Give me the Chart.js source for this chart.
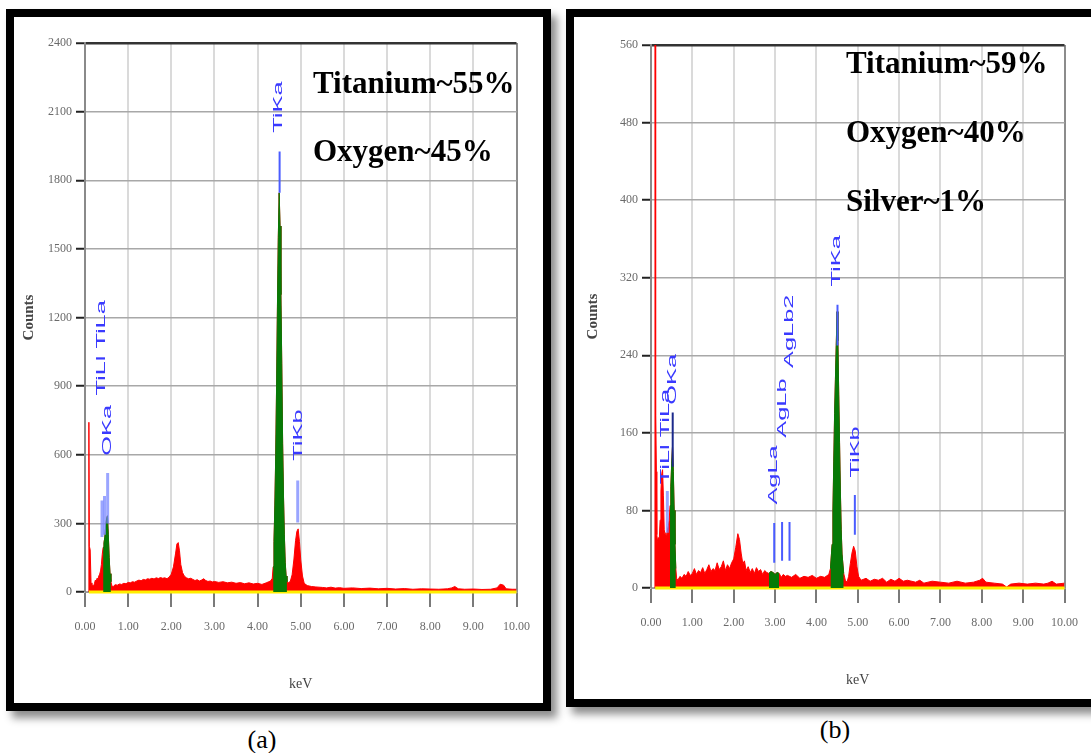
<!DOCTYPE html>
<html>
<head>
<meta charset="utf-8">
<script src="https://cdn.jsdelivr.net/npm/chart.js@4.4.1/dist/chart.umd.min.js"></script>
<style>
html, body { margin: 0; padding: 0; background: #fff; overflow: hidden; width: 1091px; height: 753px; }
.frame { position: absolute; box-sizing: border-box; border: 8px solid #000; background: #fff; box-shadow: 6px 7px 8px rgba(0,0,0,0.45); }
#frameA { left: 6px; top: 9px; width: 545px; height: 702px; }
#frameB { left: 566px; top: 9px; width: 545px; height: 698px; }
.frame canvas { position: absolute; left: 0; top: 0; }
.note { position: absolute; font: bold 31px "Liberation Serif", "Times New Roman", serif; line-height: 31px; white-space: nowrap; color: #000; }
.cap { position: absolute; width: 60px; text-align: center; font: 26px "Liberation Serif", "Times New Roman", serif; line-height: 26px; color: #000; }
</style>
</head>
<body>
<div class="frame" id="frameA"><canvas id="chartA" width="529" height="686"></canvas></div>
<div class="frame" id="frameB"><canvas id="chartB" width="517" height="682"></canvas></div>

<div class="note" style="left:313px; top:67px;">Titanium~55%</div>
<div class="note" style="left:313px; top:135px;">Oxygen~45%</div>
<div class="note" style="left:846px; top:47px;">Titanium~59%</div>
<div class="note" style="left:846px; top:116px;">Oxygen~40%</div>
<div class="note" style="left:846px; top:185px;">Silver~1%</div>
<div class="cap" style="left:232px; top:727px;">(a)</div>
<div class="cap" style="left:805px; top:717px;">(b)</div>

<script>
// ---------- common axis values ----------
const keVTicks = [0, 1, 2, 3, 4, 5, 6, 7, 8, 9, 10];
const countTicksA = [0, 300, 600, 900, 1200, 1500, 1800, 2100, 2400];
const countTicksB = [0, 80, 160, 240, 320, 400, 480, 560];

// ---------- spectrum (a) ----------
const energyA = [
    0.08, 0.09, 0.10, 0.12, 0.14, 0.16, 0.18, 0.20, 0.22, 0.24, 0.26, 0.28, 0.30, 0.32, 0.34, 0.36, 0.38, 0.40,
    0.42, 0.44, 0.46, 0.48, 0.50, 0.52, 0.54, 0.56, 0.58, 0.60, 0.62, 0.64, 0.66,
    0.70, 0.75, 0.80, 0.85, 0.90, 0.95, 1.00, 1.05, 1.10, 1.15, 1.20, 1.25, 1.30, 1.35, 1.40, 1.45, 1.50, 1.55, 1.60, 1.65, 1.70, 1.75, 1.80, 1.85, 1.90, 1.95,
    2.00, 2.05, 2.10, 2.13, 2.16, 2.19, 2.22, 2.26, 2.30,
    2.35, 2.40, 2.45, 2.50, 2.55, 2.60, 2.65, 2.70, 2.75, 2.80, 2.85, 2.90, 2.95, 3.00, 3.10, 3.20, 3.30, 3.40, 3.50, 3.60, 3.70, 3.80, 3.90, 4.00, 4.10, 4.20, 4.26,
    4.30, 4.34, 4.36, 4.38, 4.40, 4.42, 4.44, 4.46, 4.48, 4.50, 4.52, 4.54, 4.56, 4.58, 4.60, 4.62, 4.64, 4.66, 4.68, 4.72,
    4.76, 4.80, 4.84, 4.88, 4.91, 4.94, 4.97, 5.00, 5.04, 5.08,
    5.15, 5.25, 5.35, 5.5, 5.6, 5.7, 5.8, 5.9, 6.0, 6.2, 6.4, 6.6, 6.8, 7.0, 7.2, 7.4, 7.6, 7.8, 8.0, 8.2, 8.4, 8.5, 8.57, 8.65, 8.8, 9.0, 9.2, 9.4, 9.55, 9.62, 9.70, 9.76, 9.9, 10.0
];
const countsA = [
    0, 742, 200, 185, 40, 28, 30, 26, 38, 52, 48, 60, 55, 70, 78, 92, 120, 165,
    195, 215, 240, 290, 320, 333, 250, 150, 80, 45, 30, 22, 25,
    32, 30, 35, 33, 38, 36, 42, 40, 45, 43, 48, 52, 49, 55, 53, 58, 56, 60, 57, 62, 59, 63, 60, 62, 58, 65,
    78, 110, 170, 210, 216, 180, 120, 85, 70,
    62, 58, 60, 55, 50, 54, 48, 52, 58, 50, 46, 48, 44, 46, 42, 45, 40, 43, 38, 41, 36, 40, 35, 38, 33, 40, 45,
    48, 60, 110, 220, 380, 600, 900, 1250, 1550, 1745, 1600, 1300, 1000, 650, 420, 250, 130, 70, 45, 40,
    48, 75, 140, 225, 265, 276, 220, 140, 70, 38,
    28, 24, 22, 20, 18, 21, 17, 19, 16, 18, 15, 17, 14, 16, 13, 15, 12, 14, 13, 12, 14, 18, 24, 14, 12, 13, 11, 12, 18, 34, 30, 14, 12, 12
];
const roiA = [[0.41, 0.61], [4.35, 4.69]];
const markerEnergyA = [0.395, 0.452, 0.525, 4.51, 4.93];
const markerLowA = [240, 250, 300, 1745, 304];
const markerHighA = [400, 420, 520, 1926, 487];
const peakNamesA = ['TiLl TiLa', 'OKa', 'TiKa', 'TiKb'];
const peakEnergyA = [0.39, 0.51, 4.49, 4.95];
const peakBaseA = [859, 596, 2008, 574];

// ---------- spectrum (b) ----------
const energyB = [
    0.095, 0.10, 0.105, 0.12, 0.13, 0.14, 0.16, 0.18, 0.20, 0.22, 0.24, 0.26, 0.28, 0.30, 0.32, 0.34, 0.36, 0.38, 0.40,
    0.42, 0.44, 0.46, 0.48, 0.50, 0.52, 0.54, 0.56, 0.58, 0.60, 0.62, 0.65,
    0.70, 0.75, 0.80, 0.85, 0.90, 0.95, 1.00, 1.05, 1.10, 1.15, 1.20, 1.25, 1.30, 1.35, 1.40, 1.45, 1.50, 1.55, 1.60, 1.65, 1.70, 1.75, 1.80, 1.85, 1.90, 1.95,
    2.00, 2.05, 2.10, 2.14, 2.18, 2.22, 2.26,
    2.30, 2.35, 2.40, 2.45, 2.50, 2.55, 2.60, 2.65, 2.70, 2.75, 2.80, 2.85, 2.90, 2.95, 3.00, 3.05, 3.10, 3.15, 3.20, 3.25, 3.30, 3.40, 3.50, 3.60, 3.70, 3.80, 3.90, 4.00, 4.10, 4.20, 4.30,
    4.34, 4.38, 4.40, 4.42, 4.44, 4.46, 4.48, 4.50, 4.52, 4.54, 4.56, 4.58, 4.60, 4.62, 4.66, 4.70,
    4.74, 4.78, 4.82, 4.86, 4.90, 4.94, 4.98, 5.02, 5.08,
    5.2, 5.3, 5.4, 5.5, 5.6, 5.7, 5.8, 5.9, 6.0, 6.1, 6.2, 6.4, 6.5, 6.6, 6.8, 7.0, 7.2, 7.4, 7.6, 7.8, 7.95, 8.02, 8.1, 8.3, 8.5, 8.6, 8.7, 8.9, 9.1, 9.3, 9.5, 9.6, 9.7, 9.8, 10.0
];
const countsB = [
    0, 600, 60, 178, 120, 55, 48, 52, 50, 70, 100, 118, 122, 95, 60, 55, 57, 52, 60,
    64, 70, 85, 105, 128, 146, 120, 80, 45, 20, 10, 8,
    12, 10, 14, 12, 17, 13, 15, 20, 14, 18, 16, 21, 15, 19, 24, 17, 20, 18, 26, 19, 22, 28, 18, 24, 20, 26,
    30, 42, 56, 50, 36, 25, 28,
    18, 22, 16, 20, 15, 21, 17, 19, 14, 18, 16, 15, 17, 16, 14, 16, 15, 11, 14, 12, 13, 11, 14, 10, 12, 11, 13, 10, 12, 11, 14,
    20, 45, 80, 130, 180, 215, 250, 285, 255, 200, 150, 100, 60, 35, 15, 8,
    6, 12, 25, 36, 43, 38, 22, 12, 8,
    10, 7, 9, 8, 10, 6, 9, 7, 10, 7, 8, 6, 8, 5, 7, 6, 5, 7, 5, 6, 8, 10, 6, 5, 4, 1, 4, 5, 4, 5, 4, 5, 7, 4, 5
];
const roiB = [[0.46, 0.61], [2.85, 3.10], [4.33, 4.69]];
const markerEnergyB = [0.395, 0.525, 2.98, 3.17, 3.35, 4.51, 4.93];
const markerLowB = [57, 125, 26, 28, 28, 250, 55];
const markerHighB = [100, 181, 67, 68, 68, 292, 96];
const peakNamesB = ['TiLl TiLa', 'OKa', 'AgLa', 'AgLb', 'AgLb2', 'TiKa', 'TiKb'];
const peakEnergyB = [0.35, 0.51, 2.97, 3.17, 3.35, 4.49, 4.94];
const peakBaseB = [107, 189, 86, 155, 227, 311, 114];

// marker line looks (light / dark / mid)
const markerLook = {
    light: { color: 'rgba(120,135,255,0.75)', width: 3 },
    dark: { color: '#1c2a8c', width: 2 },
    mid: { color: '#4a5cff', width: 2 }
};

Chart.defaults.font.family = '"Liberation Serif", "Times New Roman", serif';

// rotated, stretched peak labels like the EDS software draws them
function peakLabels(names, energies, bases) {
    return {
        id: 'peakLabels',
        afterDatasetsDraw(chart) {
            const ctx = chart.ctx;
            const xs = chart.scales.x, ys = chart.scales.y;
            ctx.save();
            ctx.fillStyle = '#3a3aff';
            ctx.font = '13px "Liberation Sans", Arial, sans-serif';
            ctx.textAlign = 'left';
            ctx.textBaseline = 'middle';
            names.forEach((name, i) => {
                ctx.save();
                ctx.translate(xs.getPixelForValue(energies[i]), ys.getPixelForValue(bases[i]));
                ctx.rotate(-Math.PI / 2);
                ctx.scale(1.95, 1);
                ctx.fillText(name, 0, 0);
                ctx.restore();
            });
            ctx.restore();
        }
    };
}

function spectrumChart(canvasId, d) {
    const pts = d.energy.map((e, i) => ({ x: e, y: d.counts[i] }));
    const datasets = [];

    datasets.push({
        data: pts, borderColor: '#ff0000', backgroundColor: '#ff0000',
        fill: 'origin', borderWidth: 1, order: 5
    });
    datasets.push({
        data: [{ x: d.energy[1], y: 0 }, { x: keVTicks[keVTicks.length - 1], y: 0 }],
        borderColor: '#ffee00', borderWidth: 3, fill: false, clip: false, order: 4
    });
    d.roi.forEach(r => {
        datasets.push({
            data: pts.filter(p => p.x >= r[0] && p.x <= r[1]),
            borderColor: '#067a06', backgroundColor: '#067a06',
            fill: 'origin', borderWidth: 1, order: 3
        });
    });
    d.markerEnergy.forEach((e, i) => {
        const look = markerLook[d.looks[i]];
        datasets.push({
            data: [{ x: e, y: d.markerLow[i] }, { x: e, y: d.markerHigh[i] }],
            borderColor: look.color, borderWidth: look.width, fill: false, order: 2
        });
    });

    const yTicks = d.yTicks;
    const yMax = yTicks[yTicks.length - 1];
    const xMax = keVTicks[keVTicks.length - 1];

    return new Chart(document.getElementById(canvasId), {
        type: 'line',
        data: { datasets: datasets },
        options: {
            responsive: false,
            animation: false,
            events: [],
            layout: { padding: { left: 4, right: d.padRight, top: d.padTop, bottom: 10 } },
            plugins: { legend: { display: false }, tooltip: { enabled: false } },
            elements: { point: { radius: 0 }, line: { tension: 0 } },
            scales: {
                x: {
                    type: 'linear',
                    min: keVTicks[0], max: xMax,
                    afterBuildTicks: s => { s.ticks = keVTicks.map(v => ({ value: v })); },
                    ticks: {
                        callback: v => v.toFixed(2),
                        color: '#6a6a6a', font: { size: 12 }, padding: 13,
                        maxRotation: 0, autoSkip: false
                    },
                    grid: {
                        color: c => (c.tick && c.tick.value === xMax) ? '#8c8c8c' : '#dadada',
                        lineWidth: 2, tickLength: 15, tickColor: '#7a7a7a', tickWidth: 2
                    },
                    border: { color: '#999', width: 1 },
                    title: { display: true, text: 'keV', color: '#444', font: { size: 14 }, padding: 0 },
                    afterFit: s => { s.height = d.xHeight; }
                },
                y: {
                    min: yTicks[0], max: yMax,
                    afterBuildTicks: s => { s.ticks = yTicks.map(v => ({ value: v })); },
                    ticks: { callback: v => String(v), color: '#6a6a6a', font: { size: 12 }, padding: 4 },
                    grid: {
                        color: c => (c.tick && c.tick.value === yMax) ? '#333' : '#a8a8a8',
                        lineWidth: c => (c.tick && c.tick.value === yMax) ? 2.5 : 1.5,
                        tickLength: 9, tickColor: '#222', tickWidth: 2
                    },
                    border: { color: '#8a8a8a', width: 2 },
                    title: { display: true, text: 'Counts', color: '#444', font: { size: 15, weight: 'bold' }, padding: { top: d.titlePad, bottom: 0 } },
                    afterFit: s => { s.width = d.yWidth; }
                }
            }
        },
        plugins: [peakLabels(d.peakNames, d.peakEnergy, d.peakBase)]
    });
}

spectrumChart('chartA', {
    energy: energyA, counts: countsA, roi: roiA,
    markerEnergy: markerEnergyA, markerLow: markerLowA, markerHigh: markerHighA,
    looks: ['light', 'light', 'light', 'mid', 'light'],
    peakNames: peakNamesA, peakEnergy: peakEnergyA, peakBase: peakBaseA,
    yTicks: countTicksA,
    padRight: 23, padTop: 26, yWidth: 67, xHeight: 101, titlePad: 2
});

spectrumChart('chartB', {
    energy: energyB, counts: countsB, roi: roiB,
    markerEnergy: markerEnergyB, markerLow: markerLowB, markerHigh: markerHighB,
    looks: ['light', 'dark', 'mid', 'mid', 'mid', 'mid', 'mid'],
    peakNames: peakNamesB, peakEnergy: peakEnergyB, peakBase: peakBaseB,
    yTicks: countTicksB,
    padRight: 18, padTop: 28, yWidth: 73, xHeight: 101, titlePad: 6
});
</script>
</body>
</html>
